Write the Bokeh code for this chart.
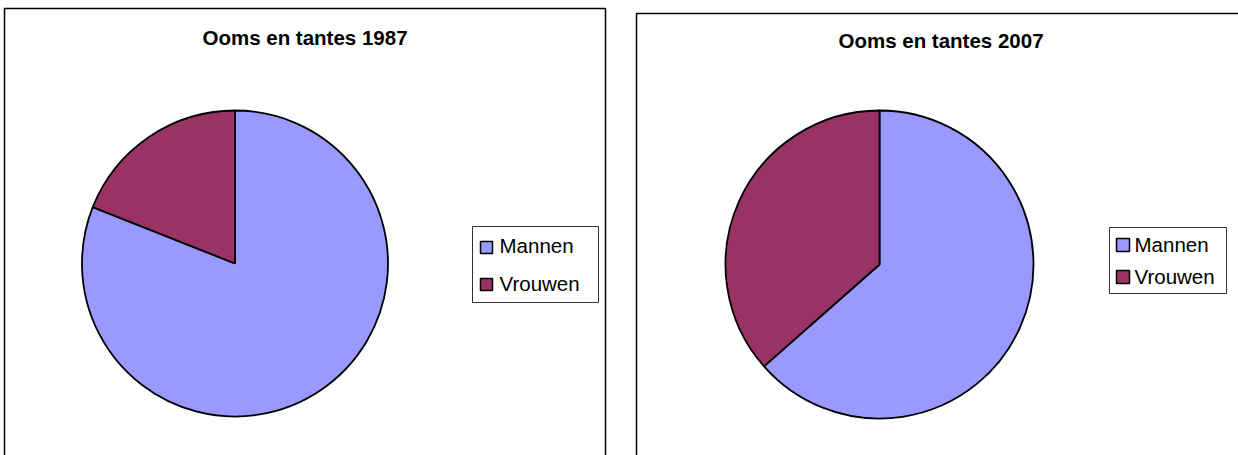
import numpy as np
from bokeh.plotting import figure
from bokeh.models import Range1d
from bokeh.core.properties import value
from bokeh.embed import file_html
from bokeh.resources import INLINE

# ---- data ----
categories = ["Mannen", "Vrouwen"]
titles = ["Ooms en tantes 1987", "Ooms en tantes 2007"]
values_1987 = [81.0, 19.0]
values_2007 = [63.5, 36.5]
colors = ["#9999FF", "#993366"]

FONT = value("Liberation Sans")

# figure in page-pixel coordinates (y negated so wedge angles are normal)
OX, OY = 0, 0
W, H = 1238, 455
p = figure(width=W, height=H, output_backend="svg", toolbar_location=None,
           x_range=Range1d(OX, OX + W), y_range=Range1d(-(OY + H), -OY),
           min_border=0, outline_line_color=None, background_fill_color="white",
           border_fill_color="white")
p.axis.visible = False
p.grid.visible = False


def panel(x0, y0, x1, y1, cx, cy, r, vals, title, ty, leg):
    # chart area border
    p.quad(left=[x0], right=[x1], top=[-y0], bottom=[-y1],
           fill_color="white", line_color="black", line_width=1.5)
    # title
    p.text(x=[(x0 + x1) / 2], y=[-ty], text=[title], text_font=FONT,
           text_font_size="20.5px", text_font_style="bold", text_align="center",
           text_baseline="alphabetic", text_color="black")
    # pie
    frac = np.array(vals) / np.sum(vals)
    ends = np.cumsum(frac) * 2 * np.pi
    starts = np.concatenate([[0], ends[:-1]])
    p.wedge(x=[cx] * len(vals), y=[-cy] * len(vals), radius=r,
            start_angle=list(np.pi / 2 - starts), end_angle=list(np.pi / 2 - ends),
            direction="clock", fill_color=colors, line_color="black", line_width=1.8)
    # legend
    lx0, ly0, lx1, ly1, sx, ss, sys, tx, tys = leg
    p.quad(left=[lx0], right=[lx1], top=[-ly0], bottom=[-ly1],
           fill_color="white", line_color="#333333", line_width=1)
    p.quad(left=[sx] * 2, right=[sx + ss] * 2, top=[-y for y in sys],
           bottom=[-(y + ss) for y in sys], fill_color=colors,
           line_color="black", line_width=1.5)
    p.text(x=[tx] * 2, y=[-y for y in tys], text=categories, text_font=FONT,
           text_font_size="20.5px", text_align="left", text_baseline="alphabetic",
           text_color="black")


panel(4, 8, 605, 470, 234.5, 263, 153, values_1987, titles[0], 37,
      (472, 226, 598, 302, 480, 12, [241, 278], 499, [245, 283]))
panel(636, 13, 1245, 470, 879, 264, 154, values_2007, titles[1], 40,
      (1109, 227, 1226, 293, 1116, 13, [238, 270], 1134, [244, 276]))

open("out.html", "w").write(file_html(p, INLINE))
